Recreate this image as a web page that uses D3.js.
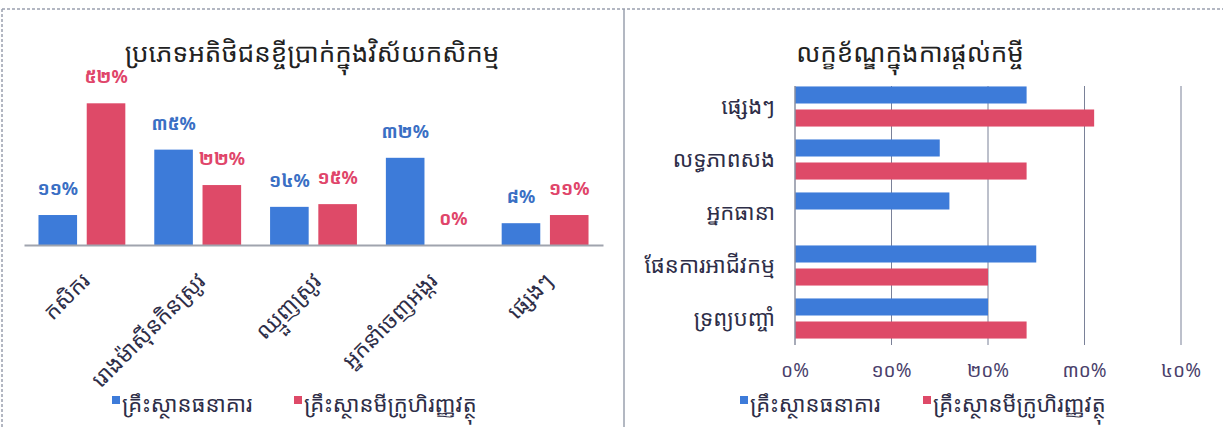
<!DOCTYPE html>
<html>
<head>
<meta charset="utf-8">
<style>
body { margin: 0; background: #fff; }
text { font-family: "Noto Sans Khmer", "Khmer OS", "Noto Sans", "DejaVu Sans", sans-serif; }
.frame { fill: none; stroke: #9aa0ae; stroke-width: 1.5px; }
.frame.dash { stroke-dasharray: 3,2; }
.title { font-size: 26px; fill: #222; text-anchor: middle; }
.cat { fill: #2e2e48; }
.val { font-size: 18px; font-weight: bold; text-anchor: middle; }
.tick-lab { font-size: 19px; fill: #4a3f6b; text-anchor: middle; }
.legend { font-size: 22px; fill: #2e2e48; }
.grid { stroke: #7a8198; stroke-width: 1px; }
</style>
<title></title></head>
<body>
<script src="https://cdn.jsdelivr.net/npm/d3@7"></script>
<script>

// left chart data
var leftTitle = "ប្រភេទអតិថិជនខ្ចីប្រាក់ក្នុងវិស័យកសិកម្ម";
var leftCategories = ["កសិករ", "រោងម៉ាស៊ីនកិនស្រូវ", "ឈ្មួញស្រូវ", "អ្នកនាំចេញអង្ករ", "ផ្សេងៗ"];
var leftBank = [11, 35, 14, 32, 8];
var leftMfi = [52, 22, 15, 0, 11];

// right chart data
var rightTitle = "លក្ខខ័ណ្ឌក្នុងការផ្ដល់កម្ចី";
var rightCategories = ["ផ្សេងៗ", "លទ្ធភាពសង", "អ្នកធានា", "ផែនការអាជីវកម្ម", "ទ្រព្យបញ្ចាំ"];
var rightBank = [24, 15, 16, 25, 20];
var rightMfi = [31, 24, 0, 20, 24];
var rightTicks = [0, 10, 20, 30, 40];

var seriesNames = ["គ្រឹះស្ថានធនាគារ", "គ្រឹះស្ថានមីក្រូហិរញ្ញវត្ថុ"];
var colors = ["#3d7bd9", "#de4a68"];
var labelColors = ["#3a6fc4", "#e0456a"];

var width = 1223, height = 427;

// western digits -> khmer digits
var khDigits = "០១២៣៤៥៦៧៨៩";
function kh(n) {
  return String(n).replace(/[0-9]/g, function(c) { return khDigits[+c]; }) + "%";
}

var svg = d3.select("body").append("svg")
    .attr("width", width)
    .attr("height", height);

// panel frames
svg.append("line").attr("class", "frame dash")
    .attr("x1", 2).attr("x2", width).attr("y1", 9).attr("y2", 9);
svg.append("line").attr("class", "frame dash")
    .attr("x1", 2).attr("x2", 2).attr("y1", 9).attr("y2", height);
svg.append("line").attr("class", "frame")
    .attr("x1", 624).attr("x2", 624).attr("y1", 9).attr("y2", height);

// ---------- left: grouped columns ----------
var left = svg.append("g");

left.append("text").attr("class", "title")
    .attr("x", 312).attr("y", 62)
    .text(leftTitle);

var x0 = d3.scaleBand()
    .domain(leftCategories)
    .range([24, 603]);

var x1 = d3.scaleBand()
    .domain([0, 1])
    .range([0, x0.bandwidth()])
    .paddingInner(0.2)
    .paddingOuter(0.3);

var yL = d3.scaleLinear()
    .domain([0, 60])
    .range([245, 81.5]);

var leftRows = leftCategories.map(function(c, i) {
  return {cat: c, vals: [leftBank[i], leftMfi[i]]};
});

var grp = left.selectAll(".grp")
    .data(leftRows)
    .enter().append("g")
    .attr("transform", function(d) { return "translate(" + x0(d.cat) + ",0)"; });

grp.selectAll("rect")
    .data(function(d) { return d.vals; })
    .enter().append("rect")
    .attr("x", function(d, i) { return x1(i); })
    .attr("width", x1.bandwidth())
    .attr("y", function(d) { return yL(d); })
    .attr("height", function(d) { return yL(0) - yL(d); })
    .style("fill", function(d, i) { return colors[i]; });

grp.selectAll(".val")
    .data(function(d) { return d.vals; })
    .enter().append("text")
    .attr("class", "val")
    .attr("x", function(d, i) { return x1(i) + x1.bandwidth() / 2; })
    .attr("y", function(d) { return yL(d) - 20; })
    .style("fill", function(d, i) { return labelColors[i]; })
    .text(function(d) { return kh(d); });

var xAxis = left.append("g")
    .attr("transform", "translate(0,245)")
    .call(d3.axisBottom(x0).tickSize(0).tickSizeOuter(0));
xAxis.select(".domain").style("stroke", "#a0a4ae").style("stroke-width", 2);
xAxis.selectAll("text")
    .attr("class", "cat")
    .attr("y", 0).attr("dy", "0.35em")
    .attr("transform", "translate(4,32) rotate(-45)")
    .style("text-anchor", "end")
    .style("font-size", "22px");

// ---------- right: grouped horizontal bars ----------
var right = svg.append("g");

right.append("text").attr("class", "title")
    .attr("x", 910).attr("y", 62)
    .text(rightTitle);

var xR = d3.scaleLinear()
    .domain([0, 40])
    .range([795, 1181]);

var y0 = d3.scaleBand()
    .domain(rightCategories)
    .range([80, 345]);

var y1 = d3.scaleBand()
    .domain([0, 1])
    .range([0, y0.bandwidth()])
    .paddingInner(0.26)
    .paddingOuter(0.28);

right.selectAll(".grid")
    .data(rightTicks.slice(1))
    .enter().append("line")
    .attr("class", "grid")
    .attr("x1", function(d) { return xR(d); })
    .attr("x2", function(d) { return xR(d); })
    .attr("y1", 86).attr("y2", 345);

var rightRows = rightCategories.map(function(c, i) {
  return {cat: c, vals: [rightBank[i], rightMfi[i]]};
});

var rg = right.selectAll(".rg")
    .data(rightRows)
    .enter().append("g")
    .attr("transform", function(d) { return "translate(0," + y0(d.cat) + ")"; });

rg.selectAll("rect")
    .data(function(d) { return d.vals; })
    .enter().append("rect")
    .attr("x", xR(0))
    .attr("y", function(d, i) { return y1(i); })
    .attr("height", y1.bandwidth())
    .attr("width", function(d) { return xR(d) - xR(0); })
    .style("fill", function(d, i) { return colors[i]; });

var yAxis = right.append("g")
    .attr("transform", "translate(" + xR(0) + ",0)")
    .call(d3.axisLeft(y0).tickSize(0).tickSizeOuter(0).tickPadding(20));
yAxis.select(".domain").style("stroke", "#8a8fa0").style("stroke-width", 1.5)
    .attr("d", "M0,86V345");
yAxis.selectAll("text")
    .attr("class", "cat")
    .style("font-size", "22px");

right.selectAll(".tick-lab")
    .data(rightTicks)
    .enter().append("text")
    .attr("class", "tick-lab")
    .attr("x", function(d) { return xR(d); })
    .attr("y", 377)
    .text(function(d) { return kh(d); });

// ---------- legends ----------
function legend(g, positions) {
  seriesNames.forEach(function(name, i) {
    g.append("rect")
        .attr("x", positions[i]).attr("y", 396)
        .attr("width", 8).attr("height", 8)
        .style("fill", colors[i]);
    g.append("text")
        .attr("class", "legend")
        .attr("x", positions[i] + 10).attr("y", 412)
        .text(name);
  });
}
legend(left, [112, 294]);
legend(right, [740, 923]);

</script>
</body>
</html>
